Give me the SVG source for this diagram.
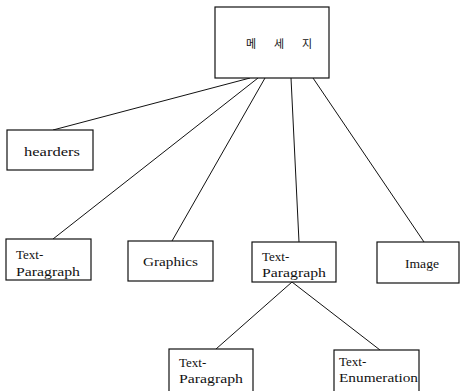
<svg xmlns="http://www.w3.org/2000/svg" width="460" height="391" viewBox="0 0 460 391">
<style>
.box{fill:#fff;stroke:#111;stroke-width:1.2}
.t{font-family:'Liberation Serif','DejaVu Serif',serif;font-size:13px;fill:#111}
.k{font-family:'Noto Sans CJK KR',sans-serif;font-size:11px;fill:#111}
#edges line{stroke:#111;stroke-width:1}
</style>
<rect width="460" height="391" fill="#fff"/>
<g id="edges">
<line x1="250" y1="78" x2="53" y2="130"/>
<line x1="258" y1="78" x2="53" y2="239"/>
<line x1="265" y1="78" x2="172" y2="241"/>
<line x1="291" y1="78" x2="299" y2="242"/>
<line x1="313" y1="78" x2="424" y2="242"/>
<line x1="292" y1="282" x2="216" y2="349"/>
<line x1="292" y1="282" x2="380" y2="350"/>
</g>
<g id="root">
<rect class="box" x="215" y="7" width="114" height="71"/>
<text class="k" x="246" y="48">메</text>
<text class="k" x="274" y="48">세</text>
<text class="k" x="302" y="48">지</text>
</g>
<g id="headers">
<rect class="box" x="7" y="130" width="86" height="40"/>
<text class="t" x="24" y="156" textLength="56" lengthAdjust="spacingAndGlyphs">hearders</text>
</g>
<g id="textpara1">
<rect class="box" x="6" y="239" width="85" height="41"/>
<text class="t" x="16" y="259">Text-</text>
<text class="t" x="16" y="276" textLength="64" lengthAdjust="spacingAndGlyphs">Paragraph</text>
</g>
<g id="graphics">
<rect class="box" x="128" y="241" width="85" height="40"/>
<text class="t" x="143" y="266" textLength="55" lengthAdjust="spacingAndGlyphs">Graphics</text>
</g>
<g id="textpara2">
<rect class="box" x="252" y="242" width="84" height="40"/>
<text class="t" x="262" y="261">Text-</text>
<text class="t" x="262" y="277" textLength="64" lengthAdjust="spacingAndGlyphs">Paragraph</text>
</g>
<g id="image">
<rect class="box" x="377" y="242" width="82" height="41"/>
<text class="t" x="405" y="268" textLength="34" lengthAdjust="spacingAndGlyphs">Image</text>
</g>
<g id="textpara3">
<rect class="box" x="169" y="349" width="84" height="46"/>
<text class="t" x="179" y="367">Text-</text>
<text class="t" x="179" y="383" textLength="64" lengthAdjust="spacingAndGlyphs">Paragraph</text>
</g>
<g id="textenum">
<rect class="box" x="334" y="350" width="85" height="45"/>
<text class="t" x="339" y="366">Text-</text>
<text class="t" x="339" y="382" textLength="79" lengthAdjust="spacingAndGlyphs">Enumeration</text>
</g>
</svg>
